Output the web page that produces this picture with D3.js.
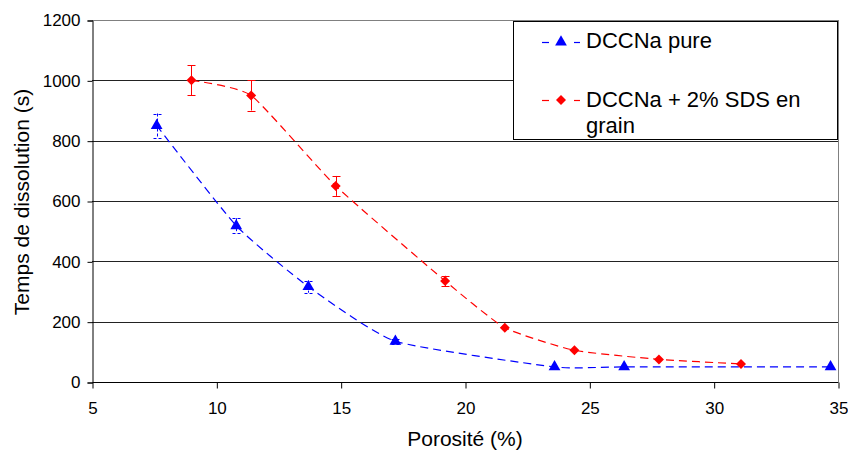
<!DOCTYPE html>
<html>
<head>
<meta charset="utf-8">
<script src="https://cdn.jsdelivr.net/npm/d3@7"></script>
<style>
  html, body { margin: 0; padding: 0; background: #fff; }
  svg { display: block; font-family: "Liberation Sans", Arial, sans-serif; }
</style>
</head>
<body>
<svg id="chart" width="848" height="451"></svg>
<script>
// ---- Data ----
const seriesNames = ["DCCNa pure", "DCCNa + 2% SDS en grain"];
const pureX   = [7.6, 10.8, 13.7, 17.2, 23.6, 26.4, 34.7];
const pureY   = [850, 518, 316, 135, 50, 50, 50];
const pureErr = [40, 25, 20, 8, 0, 0, 0];
const sdsX    = [9.0, 11.4, 14.8, 19.2, 21.6, 24.4, 27.8, 31.1];
const sdsY    = [1000, 950, 650, 335, 180, 105, 75, 60];
const sdsErr  = [50, 50, 33, 17, 0, 0, 0, 0];
const xTicks  = [5, 10, 15, 20, 25, 30, 35];
const yTicks  = [0, 200, 400, 600, 800, 1000, 1200];
const xTitle  = "Porosité (%)";
const yTitle  = "Temps de dissolution (s)";

// ---- Layout ----
const svg = d3.select("#chart");
const L = 92, R = 838, T = 20, B = 382;
const x = d3.scaleLinear().domain([5, 35]).range([L, R]);
const y = d3.scaleLinear().domain([0, 1200]).range([B, T]);

// gridlines
svg.append("g").selectAll("line").data(yTicks.filter(d => d > 0)).join("line")
  .attr("x1", L).attr("x2", R)
  .attr("y1", d => Math.round(y(d)) + 0.5).attr("y2", d => Math.round(y(d)) + 0.5)
  .attr("stroke", d => d === 1200 ? "#808080" : "#222").attr("stroke-width", 1);
// right border
svg.append("line").attr("x1", R + 0.5).attr("x2", R + 0.5).attr("y1", T).attr("y2", B)
  .attr("stroke", "#808080");

// axes
const yAxis = d3.axisLeft(y).tickValues(yTicks).tickSize(5).tickPadding(7).tickFormat(d3.format("d"));
const gy = svg.append("g").attr("transform", `translate(${L + 0.5},0.5)`).call(yAxis);
const xAxis = d3.axisBottom(x).tickValues(xTicks).tickSize(6).tickPadding(13).tickFormat(d3.format("d"));
const gx = svg.append("g").attr("transform", `translate(0.5,${B + 0.5})`).call(xAxis);
[gx, gy].forEach(g => {
  g.select(".domain").attr("stroke", "#000");
  g.selectAll(".tick line").attr("stroke", "#000");
  g.selectAll("text").attr("fill", "#000").attr("font-size", 17)
    .attr("font-family", "'Liberation Sans', Arial, sans-serif");
});
gx.select(".domain").attr("d", `M${L},0H${R}`);

// axis titles
svg.append("text").attr("x", (L + R) / 2).attr("y", 446).attr("text-anchor", "middle")
  .attr("font-size", 21).text(xTitle);
svg.append("text").attr("transform", "translate(29,202) rotate(-90)").attr("text-anchor", "middle")
  .attr("font-size", 21).text(yTitle);

// square diamond symbol (Excel style)
const excelDiamond = {
  draw(ctx, size) {
    const r = Math.sqrt(size / 2);
    ctx.moveTo(0, -r); ctx.lineTo(r, 0); ctx.lineTo(0, r); ctx.lineTo(-r, 0); ctx.closePath();
  }
};

// series
const series = [
  { xs: pureX, ys: pureY, es: pureErr, color: "#0000ff", sym: d3.symbolTriangle, size: 60, errDash: "3,2" },
  { xs: sdsX, ys: sdsY, es: sdsErr, color: "#ff0000", sym: excelDiamond, size: 50, errDash: null }
];
const line = d3.line().x(d => x(d[0])).y(d => y(d[1])).curve(d3.curveCardinal.tension(0.5));

series.forEach(s => {
  const pts = s.xs.map((v, i) => [v, s.ys[i], s.es[i]]);
  svg.append("path").datum(pts).attr("d", line)
    .attr("fill", "none").attr("stroke", s.color).attr("stroke-width", 1.2)
    .attr("stroke-dasharray", "8,5");
  const eg = svg.append("g");
  pts.filter(p => p[2] > 0).forEach(p => {
    const cx = Math.round(x(p[0])) + 0.5;
    const y1 = y(p[1] + p[2]), y2 = y(p[1] - p[2]);
    eg.append("line").attr("x1", cx).attr("x2", cx).attr("y1", y1).attr("y2", y2)
      .attr("stroke", s.color).attr("stroke-dasharray", s.errDash);
    [y1, y2].forEach(yy => eg.append("line").attr("x1", cx - 4).attr("x2", cx + 4)
      .attr("y1", Math.round(yy) + 0.5).attr("y2", Math.round(yy) + 0.5)
      .attr("stroke", s.color).attr("stroke-dasharray", s.errDash));
  });
  svg.append("g").selectAll("path").data(pts).join("path")
    .attr("transform", d => `translate(${x(d[0])},${y(d[1])})`)
    .attr("d", d3.symbol().type(s.sym).size(s.size))
    .attr("fill", s.color);
});

// legend
const lg = svg.append("g");
lg.append("rect").attr("x", 513.5).attr("y", 21.5).attr("width", 324).attr("height", 118)
  .attr("fill", "#fff").attr("stroke", "#000");
const legY = [42, 100];
series.forEach((s, i) => {
  [[542, 549], [574, 580]].forEach(seg => lg.append("line")
    .attr("x1", seg[0]).attr("x2", seg[1]).attr("y1", legY[i] + 0.5).attr("y2", legY[i] + 0.5)
    .attr("stroke", s.color).attr("stroke-width", 1.2));
  lg.append("path").attr("transform", `translate(561,${legY[i]})`)
    .attr("d", d3.symbol().type(s.sym).size(s.size)).attr("fill", s.color);
});
lg.append("text").attr("x", 586).attr("y", 48).attr("font-size", 22).text(seriesNames[0]);
const t2 = lg.append("text").attr("x", 586).attr("y", 107).attr("font-size", 22);
t2.append("tspan").attr("x", 586).text("DCCNa + 2% SDS en");
t2.append("tspan").attr("x", 586).attr("dy", 26).text("grain");
</script>
</body>
</html>
